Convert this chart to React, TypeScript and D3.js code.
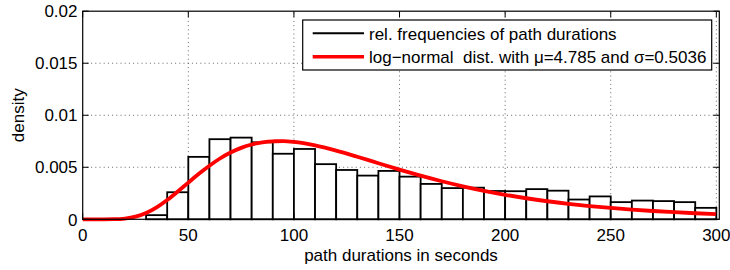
import React from "react";
import * as d3 from "d3";

// Histogram bins (left edge, width 10 s) and relative-frequency densities
const binStarts = [30, 40, 50, 60, 70, 80, 90, 100, 110, 120, 130, 140, 150, 160, 170, 180, 190, 200, 210, 220, 230, 240, 250, 260, 270, 280, 290];
const binDensities = [0.0004, 0.0026, 0.006, 0.0077, 0.00785, 0.0074, 0.0063, 0.00676, 0.0053, 0.00474, 0.0042, 0.00465, 0.0041, 0.0034, 0.003, 0.00304, 0.00272, 0.0027, 0.0029, 0.00275, 0.0019, 0.0022, 0.00165, 0.0018, 0.00175, 0.00165, 0.0011];
const binWidth = 10;

// Log-normal fit curve samples
const curveX = [0, 10, 15, 20, 25, 30, 35, 40, 45, 50, 55, 60, 65, 70, 75, 80, 85, 90, 95, 100, 110, 120, 130, 140, 150, 160, 170, 180, 190, 200, 210, 220, 230, 240, 250, 260, 270, 280, 290, 300];
const curveY = [0, 0, 0.00001, 0.000072, 0.000252, 0.000606, 0.001148, 0.001854, 0.002668, 0.003526, 0.004371, 0.005154, 0.005844, 0.006416, 0.006865, 0.00719, 0.007397, 0.007498, 0.007505, 0.007433, 0.007101, 0.006602, 0.006013, 0.005392, 0.004777, 0.004194, 0.003656, 0.00317, 0.002737, 0.002356, 0.002023, 0.001735, 0.001486, 0.001272, 0.001088, 0.00093, 0.000796, 0.000681, 0.000583, 0.0005];

const xTicks = [0, 50, 100, 150, 200, 250, 300];
const yTicks = [0, 0.005, 0.01, 0.015, 0.02];
const yTickLabels = ["0", "0.005", "0.01", "0.015", "0.02"];

const legendLabels = ["rel. frequencies of path durations", "log\u2212normal  dist. with \u03bc=4.785 and \u03c3=0.5036"];
const xTitle = "path durations in seconds";
const yTitle = "density";

const W = 730;
const H = 270;
const L = 82.7;
const R = 719.3;
const T = 11.2;
const B = 219.3;
const FONT = "'Liberation Sans', Arial, Helvetica, sans-serif";

export default function App() {
  const x = d3.scaleLinear().domain([0, 301.4]).range([L, R]);
  const y = d3.scaleLinear().domain([0, 0.02]).range([B, T]);
  const pts: [number, number][] = curveX.map((v, i) => [v, curveY[i]]);
  const line = d3
    .line<[number, number]>()
    .x((d) => x(d[0]))
    .y((d) => y(d[1]))
    .curve(d3.curveMonotoneX);
  const tick = 6;

  return (
    <svg
      width={W}
      height={H}
      style={{ position: "absolute", left: 0, top: 0, background: "#fff" }}
      fontFamily={FONT}
    >
      <rect x={0} y={0} width={W} height={H} fill="#fff" />
      {/* grid */}
      <g stroke="#000" strokeWidth={0.8} strokeDasharray="1,3.2" opacity={0.75}>
        {xTicks.filter((t) => t > 0 && t < 301).map((t) => (
          <line key={"gx" + t} x1={x(t)} x2={x(t)} y1={B} y2={T} />
        ))}
        {yTicks.filter((t) => t > 0 && t < 0.02).map((t) => (
          <line key={"gy" + t} x1={L} x2={R} y1={y(t)} y2={y(t)} />
        ))}
      </g>
      {/* bars */}
      <g fill="#fff" stroke="#000" strokeWidth={1.8}>
        {binStarts.map((s, i) => (
          <rect
            key={"b" + s}
            x={x(s)}
            y={y(binDensities[i])}
            width={x(s + binWidth) - x(s)}
            height={y(0) - y(binDensities[i])}
          />
        ))}
      </g>
      {/* curve */}
      <path d={line(pts) || ""} fill="none" stroke="#ff0000" strokeWidth={3.8} strokeLinejoin="round" />
      {/* frame and ticks */}
      <rect x={L} y={T} width={R - L} height={B - T} fill="none" stroke="#000" strokeWidth={1.2} />
      <g stroke="#000" strokeWidth={1}>
        {xTicks.map((t) => (
          <g key={"tx" + t}>
            <line x1={x(t)} x2={x(t)} y1={B} y2={B - tick} />
            <line x1={x(t)} x2={x(t)} y1={T} y2={T + tick} />
          </g>
        ))}
        {yTicks.map((t) => (
          <g key={"ty" + t}>
            <line x1={L} x2={L + tick} y1={y(t)} y2={y(t)} />
            <line x1={R} x2={R - tick} y1={y(t)} y2={y(t)} />
          </g>
        ))}
      </g>
      {/* tick labels */}
      <g fontSize={17} fill="#000">
        {xTicks.map((t) => (
          <text key={"lx" + t} x={x(t)} y={240.5} textAnchor="middle">
            {t}
          </text>
        ))}
        {yTicks.map((t, i) => (
          <text key={"ly" + t} x={77.5} y={y(t) + 6.2} textAnchor="end">
            {yTickLabels[i]}
          </text>
        ))}
      </g>
      {/* axis titles */}
      <text x={(L + R) / 2} y={261} textAnchor="middle" fontSize={17} fill="#000">
        {xTitle}
      </text>
      <text
        transform={`translate(23.5, ${(T + B) / 2}) rotate(-90)`}
        textAnchor="middle"
        fontSize={17}
        fill="#000"
      >
        {yTitle}
      </text>
      {/* legend */}
      <g>
        <rect x={302.7} y={20} width={409} height={50} fill="#fff" stroke="#000" strokeWidth={1.2} />
        <line x1={312.7} x2={364} y1={33.3} y2={33.3} stroke="#000" strokeWidth={2} />
        <line x1={312.7} x2={364} y1={56.7} y2={56.7} stroke="#ff0000" strokeWidth={3.6} />
        <text x={369} y={40.3} fontSize={17} fill="#000" style={{ whiteSpace: "pre" }}>
          {legendLabels[0]}
        </text>
        <text x={369} y={62.5} fontSize={17} fill="#000" style={{ whiteSpace: "pre" }}>
          {legendLabels[1]}
        </text>
      </g>
    </svg>
  );
}
